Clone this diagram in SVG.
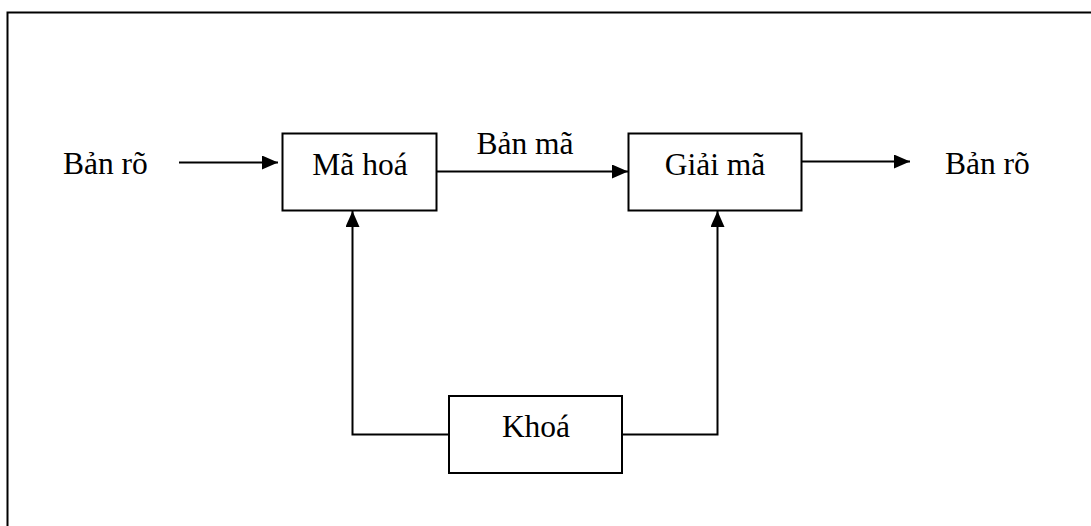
<svg xmlns="http://www.w3.org/2000/svg" width="1091" height="526" viewBox="0 0 1091 526">
<style>
.box{fill:#fff;stroke:#000;stroke-width:2}
.ln{fill:none;stroke:#000;stroke-width:2}
.t{font-family:"Liberation Serif","Times New Roman",serif;font-size:31.5px;fill:#000}
</style>
<defs>
<marker id="ah" viewBox="0 0 16 14" refX="16" refY="7" markerWidth="16" markerHeight="14" markerUnits="userSpaceOnUse" orient="auto">
<path d="M0,0 L16,7 L0,14 Z" fill="#000"/>
</marker>
</defs>
<rect width="1091" height="526" fill="#fff"/>
<g id="frame">
<path d="M7.5,526 V12.5 H1091" fill="none" stroke="#000" stroke-width="2"/>
</g>
<g id="connectors">
<line class="ln" x1="179" y1="162.5" x2="278" y2="162.5" marker-end="url(#ah)"/>
<line class="ln" x1="437" y1="171.5" x2="628" y2="171.5" marker-end="url(#ah)"/>
<line class="ln" x1="802" y1="161.5" x2="910" y2="161.5" marker-end="url(#ah)"/>
<polyline class="ln" points="449,434.5 352.5,434.5 352.5,211" marker-end="url(#ah)"/>
<polyline class="ln" points="622,434.5 717.5,434.5 717.5,211" marker-end="url(#ah)"/>
</g>
<g id="input">
<text class="t" x="63" y="174">Bản rõ</text>
</g>
<g id="ma-hoa">
<rect class="box" x="282.5" y="133.5" width="154" height="77"/>
<text class="t" x="360" y="174.5" text-anchor="middle">Mã hoá</text>
</g>
<g id="ban-ma">
<text class="t" x="476.5" y="153.5">Bản mã</text>
</g>
<g id="giai-ma">
<rect class="box" x="628.5" y="133.5" width="173" height="77"/>
<text class="t" x="715" y="174.5" text-anchor="middle">Giải mã</text>
</g>
<g id="output">
<text class="t" x="945" y="174">Bản rõ</text>
</g>
<g id="khoa">
<rect class="box" x="449" y="396" width="173" height="77"/>
<text class="t" x="536" y="437" text-anchor="middle">Khoá</text>
</g>
</svg>
